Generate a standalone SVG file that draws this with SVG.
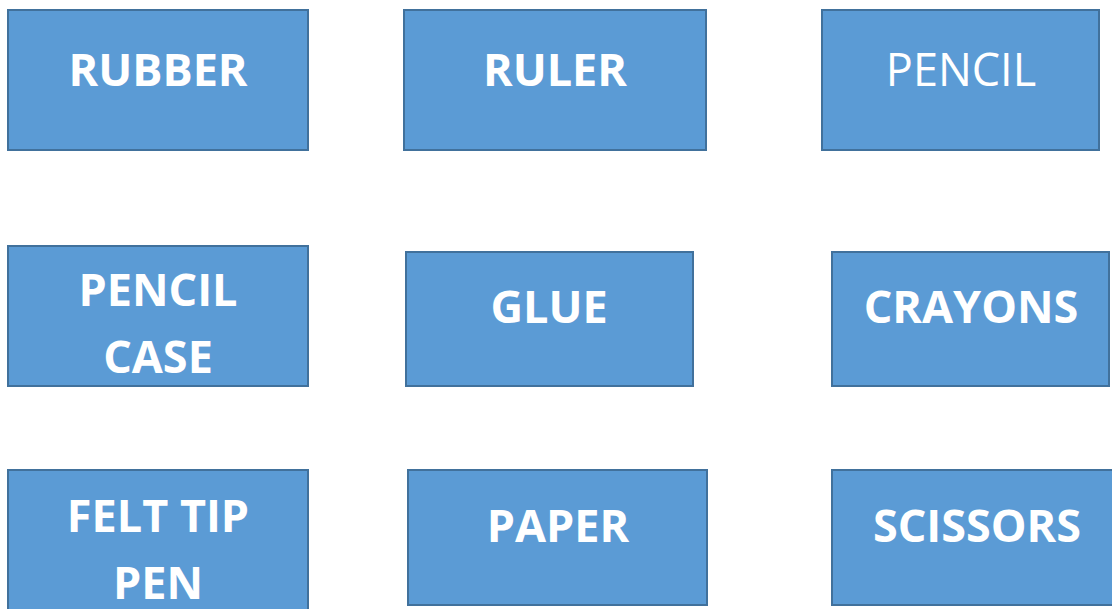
<svg xmlns="http://www.w3.org/2000/svg" width="1112" height="609" viewBox="0 0 1112 609">
<style>
.box{fill:#5B9BD5;stroke:#41719C;stroke-width:2}
.t{fill:#FFFFFF;font-family:"Open Sans","Liberation Sans",sans-serif;font-size:45px;font-weight:bold;text-anchor:middle}
.n{font-weight:normal}
</style>
<rect width="1112" height="609" fill="#FFFFFF"/>
<g id="rubber"><rect class="box" x="8" y="10" width="300" height="140"/><text class="t" x="158" y="86">RUBBER</text></g>
<g id="ruler"><rect class="box" x="404" y="10" width="302" height="140"/><text class="t" x="555" y="86">RULER</text></g>
<g id="pencil"><rect class="box" x="822" y="10" width="277" height="140"/><text class="t n" x="961" y="86">PENCIL</text></g>
<g id="pencil-case"><rect class="box" x="8" y="246" width="300" height="140"/><text class="t" x="158" y="306">PENCIL</text><text class="t" x="158" y="373">CASE</text></g>
<g id="glue"><rect class="box" x="406" y="252" width="287" height="134"/><text class="t" x="549" y="323">GLUE</text></g>
<g id="crayons"><rect class="box" x="832" y="252" width="277" height="134"/><text class="t" x="971" y="323">CRAYONS</text></g>
<g id="felt-tip-pen"><rect class="box" x="8" y="470" width="300" height="150"/><text class="t" x="158" y="532">FELT TIP</text><text class="t" x="158" y="599">PEN</text></g>
<g id="paper"><rect class="box" x="408" y="470" width="299" height="135"/><text class="t" x="558" y="542">PAPER</text></g>
<g id="scissors"><rect class="box" x="832" y="470" width="290" height="135"/><text class="t" x="977" y="542">SCISSORS</text></g>
<g id="connectors"></g>
</svg>
